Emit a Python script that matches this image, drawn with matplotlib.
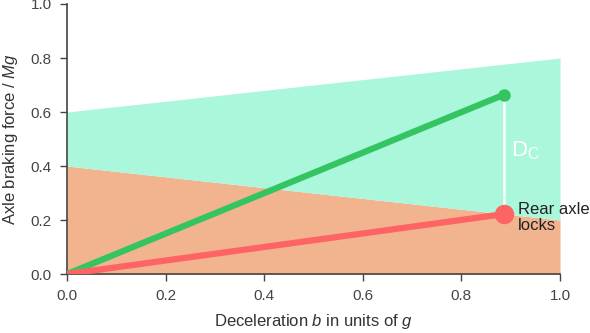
import matplotlib.pyplot as plt
import numpy as np

plt.rcParams['font.family'] = ['Liberation Sans', 'DejaVu Sans']
plt.rcParams['mathtext.fontset'] = 'custom'
plt.rcParams['mathtext.rm'] = 'Liberation Sans'
plt.rcParams['mathtext.it'] = 'Liberation Sans:italic'

# decelerations at the boundary lines
b_edges = [0.0, 1.0]
front_limit = [0.6, 0.8]   # upper edge of the teal region
rear_limit = [0.4, 0.2]    # upper edge of the orange region

# braking force lines up to the locking point
b_lock = [0.0, 0.886]
front_force = [0.0, 0.664]
rear_force = [0.0, 0.222]

fig = plt.figure(figsize=(5.9, 3.33), dpi=100)
ax = fig.add_axes([0.1136, 0.177, 0.8356, 0.811])

ax.fill_between(b_edges, 0, rear_limit, color='#f2b48f', lw=0)
ax.fill_between(b_edges, rear_limit, front_limit, color='#aaf7dc', lw=0)

ax.plot([b_lock[1], b_lock[1]], [rear_force[1], front_force[1]], color='white', lw=1.8, zorder=3)
ax.plot(b_lock, front_force, color='#35c462', lw=4.5, solid_capstyle='butt', zorder=4)
ax.plot(b_lock[1], front_force[1], 'o', color='#35c462', ms=8, zorder=5)
ax.plot(b_lock, rear_force, color='#ff6464', lw=4.5, solid_capstyle='butt', zorder=4)
ax.plot(b_lock[1], rear_force[1], 'o', color='#ff6464', ms=13, zorder=5)

ax.text(0.9, 0.455, r'D$_\mathrm{C}$', color='white', fontsize=16, va='center')
ax.text(0.915, 0.21, 'Rear axle\nlocks', color='#222222', fontsize=12, va='center',
        linespacing=1.1)

ax.set_xlim(0, 1)
ax.set_ylim(0, 1)
ax.set_xticks(np.arange(0, 1.01, 0.2))
ax.set_yticks(np.arange(0, 1.01, 0.2))
ax.xaxis.set_major_formatter(plt.FormatStrFormatter('%.1f'))
ax.yaxis.set_major_formatter(plt.FormatStrFormatter('%.1f'))
for s in ['top', 'right']:
    ax.spines[s].set_visible(False)
for s in ['left', 'bottom']:
    ax.spines[s].set_color('#444444')
    ax.spines[s].set_linewidth(1.2)
ax.tick_params(colors='#444444', labelcolor='#444444', labelsize=11, length=5, width=1, pad=6)
ax.set_xlabel(r'Deceleration $b$ in units of $g$', fontsize=12, color='#333333', labelpad=6)
ax.set_ylabel(r'Axle braking force / $Mg$', fontsize=12, color='#333333', labelpad=8)

fig.savefig('out.png', dpi=100)
